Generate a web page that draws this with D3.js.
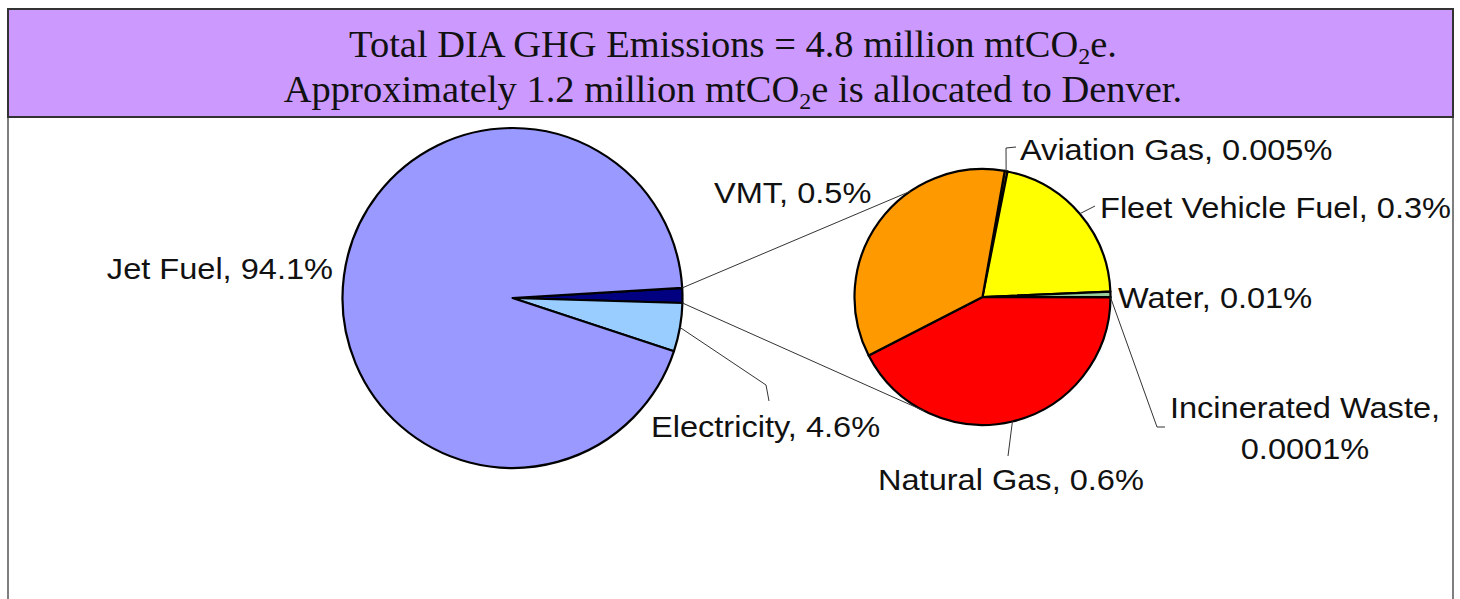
<!DOCTYPE html>
<html>
<head>
<meta charset="utf-8">
<script src="https://cdn.jsdelivr.net/npm/d3@7"></script>
<style>
  body { margin: 0; background: #fff; }
  svg text { font-family: "Liberation Sans", Arial, sans-serif; }
</style>
</head>
<body>
<svg id="chart" width="1460" height="599"></svg>
<script>
// main pie
const mainCategories = ["Other", "Electricity", "Jet Fuel"];
const mainValues = [null, 4.6, 94.1]; // "Other" = sum of the small pie
// second pie (breakdown of "Other")
const subCategories = ["Aviation Gas", "Fleet Vehicle Fuel", "Water", "Incinerated Waste", "Natural Gas", "VMT"];
const subValues = [0.005, 0.3, 0.01, 0.0001, 0.6, 0.5];

const titleLines = ["Total DIA GHG Emissions = 4.8 million mtCO", "Approximately 1.2 million mtCO"];
const titleTails = ["e.", "e is allocated to Denver."];

const mainColors = ["#000080", "#99CCFF", "#9999FF"];
const subColors = ["#FF9900", "#FFFF00", "#99CC99", "#CCFFCC", "#FF0000", "#FF9900"];

const svg = d3.select("#chart");
const deg = Math.PI / 180;
const sx = 1.085; // labels look slightly stretched in the original

// frame + title box
svg.append("line").attr("x1", 8).attr("x2", 8).attr("y1", 117).attr("y2", 599)
  .attr("stroke", "#555").attr("stroke-width", 1.5);
svg.append("line").attr("x1", 1453).attr("x2", 1453).attr("y1", 117).attr("y2", 599)
  .attr("stroke", "#555").attr("stroke-width", 1.5);
svg.append("rect").attr("x", 8).attr("y", 9).attr("width", 1445).attr("height", 108)
  .attr("fill", "#CC99FF").attr("stroke", "#333").attr("stroke-width", 2);

titleLines.forEach((t, i) => {
  const txt = svg.append("text")
    .attr("x", 733).attr("y", 57 + i * 44.5)
    .attr("text-anchor", "middle")
    .style("font-family", "'Liberation Serif', 'Times New Roman', serif")
    .style("font-size", "38.5px")
    .attr("fill", "#111");
  txt.append("tspan").text(t);
  txt.append("tspan").attr("dy", 7).style("font-size", "24px").text("2");
  txt.append("tspan").attr("dy", -7).text(titleTails[i]);
});

// main pie
const mainData = mainCategories.map((c, i) => ({
  name: c, value: i === 0 ? d3.sum(subValues) : mainValues[i], color: mainColors[i]
}));
const c1 = [512.5, 298], r1 = 170;
const pie1 = d3.pie().sort(null).value(d => d.value)
  .startAngle(86.6 * deg).endAngle(86.6 * deg + 2 * Math.PI);
const arc1 = d3.arc().innerRadius(0).outerRadius(r1);
const arcs1 = pie1(mainData);

const g1 = svg.append("g").attr("transform", `translate(${c1[0]},${c1[1]})`);
g1.selectAll("path").data(arcs1).enter().append("path")
  .attr("d", arc1).attr("fill", d => d.data.color)
  .attr("stroke", "#000").attr("stroke-width", 2.2).attr("stroke-linejoin", "round");

// second pie
const subData = subCategories.map((c, i) => ({ name: c, value: subValues[i], color: subColors[i] }));
const c2 = [982.5, 297], r2 = 128;
const pie2 = d3.pie().sort(null).value(d => d.value)
  .startAngle(10 * deg).endAngle(10 * deg + 2 * Math.PI);
const arc2 = d3.arc().innerRadius(0).outerRadius(r2);
const arcs2 = pie2(subData);

const g2 = svg.append("g").attr("transform", `translate(${c2[0]},${c2[1]})`);
g2.selectAll("path").data(arcs2).enter().append("path")
  .attr("d", arc2).attr("fill", d => d.data.color)
  .attr("stroke", "#000").attr("stroke-width", 2.2).attr("stroke-linejoin", "round");

function pt(c, r, a) { return [c[0] + r * Math.sin(a), c[1] - r * Math.cos(a)]; }

// connector lines between the pies
const other = arcs1[0];
const conn = [
  [pt(c1, r1, other.startAngle), pt(c2, r2, 325.7 * deg)],
  [pt(c1, r1, other.endAngle), pt(c2, r2, 207 * deg)]
];
svg.selectAll(".conn").data(conn).enter().append("line")
  .attr("class", "conn")
  .attr("x1", d => d[0][0]).attr("y1", d => d[0][1])
  .attr("x2", d => d[1][0]).attr("y2", d => d[1][1])
  .attr("stroke", "#333").attr("stroke-width", 1);

// label layout
const labelLayout = {
  "Jet Fuel": { x: 333, y: 279, anchor: "end" },
  "Electricity": { x: 651, y: 437, anchor: "start", leader: [[766, 385], [769, 401]] },
  "VMT": { x: 714, y: 203, anchor: "start" },
  "Aviation Gas": { x: 1020, y: 160, anchor: "start", leader: [[1006, 148], [1016, 147]] },
  "Fleet Vehicle Fuel": { x: 1100, y: 218, anchor: "start", leader: [[1095, 206]] },
  "Water": { x: 1118, y: 308, anchor: "start" },
  "Incinerated Waste": { x: 1305, y: 418, anchor: "middle", split: true, leader: [[1157, 427], [1165, 427]] },
  "Natural Gas": { x: 878, y: 490, anchor: "start", leader: [[1008, 456]] }
};

function addLabel(d, c, r) {
  const lay = labelLayout[d.data.name];
  if (!lay) return;
  const mid = (d.startAngle + d.endAngle) / 2;
  if (lay.leader) {
    const pts = [pt(c, r, mid)].concat(lay.leader);
    svg.append("path").attr("d", d3.line()(pts))
      .attr("fill", "none").attr("stroke", "#333").attr("stroke-width", 1);
  }
  const lines = lay.split ? [d.data.name + ",", d.data.value + "%"]
                          : [d.data.name + ", " + d.data.value + "%"];
  lines.forEach((l, i) => {
    svg.append("text")
      .attr("transform", `translate(${lay.x},${lay.y + i * 41}) scale(${sx},1)`)
      .attr("text-anchor", lay.anchor)
      .style("font-size", "30px")
      .attr("fill", "#111")
      .text(l);
  });
}
arcs1.forEach(d => addLabel(d, c1, r1));
arcs2.forEach(d => addLabel(d, c2, r2));
</script>
</body>
</html>
